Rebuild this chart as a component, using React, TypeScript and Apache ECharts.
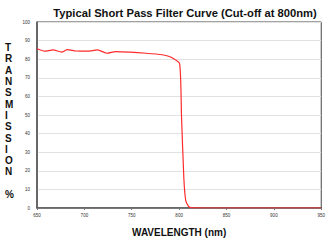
import React, { useEffect, useRef } from "react";
import * as echarts from "echarts";

const wavelengths = [650, 658, 667, 676, 682, 691, 703, 714, 724, 733, 748, 765, 782, 788, 793, 800.5, 802.5, 805, 807, 809.8, 812, 830, 870, 910, 950];
const transmission = [85.6, 84.3, 85, 83.8, 85.1, 84.4, 84.3, 85, 83.2, 84.1, 83.8, 83.2, 82.4, 81.7, 80.7, 77.7, 49.7, 15.9, 4, 1, 0.2, 0, 0, 0, 0];
const xTicks = [650, 700, 750, 800, 850, 900, 950];
const yTicks = [0, 10, 20, 30, 40, 50, 60, 70, 80, 90, 100];
const title = "Typical Short Pass Filter Curve (Cut-off at 800nm)";
const xName = "WAVELENGTH (nm)";
const yNameLetters = ["T", "R", "A", "N", "S", "M", "I", "S", "S", "I", "O", "N", "", "%"];

export default function App() {
  const ref = useRef<HTMLDivElement>(null);
  useEffect(() => {
    if (!ref.current) return;
    const chart = echarts.init(ref.current, null, { renderer: "svg" });
    chart.setOption({
      animation: false,
      backgroundColor: "#fff",
      title: {
        text: title,
        left: 180,
        textAlign: "center",
        top: 2,
        textStyle: { fontFamily: "Liberation Sans", fontSize: 11.2, fontWeight: "bold", color: "#111" },
      },
      grid: {
        left: 37, right: 5, top: 22, bottom: 25,
        show: true, borderColor: "#444", borderWidth: 1, backgroundColor: "transparent",
      },
      xAxis: {
        type: "value", min: xTicks[0], max: xTicks[xTicks.length - 1], interval: 50,
        name: xName, nameLocation: "middle", nameGap: 19,
        nameTextStyle: { fontFamily: "Liberation Sans", fontSize: 10, fontWeight: "bold", color: "#111" },
        axisLine: { lineStyle: { color: "#555", width: 1.5 } },
        axisTick: { show: true, length: 2, lineStyle: { color: "#777" } },
        axisLabel: { fontSize: 4.5, color: "#333", margin: 5, fontFamily: "Liberation Sans" },
        splitLine: { show: false },
      },
      yAxis: {
        type: "value", min: yTicks[0], max: yTicks[yTicks.length - 1], interval: 10,
        axisLine: { show: true, lineStyle: { color: "#555", width: 1.5 } },
        axisTick: { show: false },
        axisLabel: { fontSize: 4.5, color: "#333", margin: 7, fontFamily: "Liberation Sans" },
        splitLine: { show: true, lineStyle: { color: "#e2e2e2", width: 1 } },
      },
      graphic: [
        {
          type: "text", left: 5, top: 42,
          style: {
            text: yNameLetters.join("\n"),
            fontFamily: "Liberation Sans", fontSize: 10, fontWeight: "bold", fill: "#111",
            lineHeight: 11.3, align: "center",
          },
        },
      ],
      series: [
        {
          type: "line",
          data: wavelengths.map((w, i) => [w, transmission[i]]),
          showSymbol: false,
          lineStyle: { color: "#ff2a2a", width: 1.2 },
          smooth: 0.2,
        },
      ],
    });
    return () => chart.dispose();
  }, []);
  return <div ref={ref} style={{ width: 328, height: 242, position: "absolute", left: 0, top: 0 }} />;
}
